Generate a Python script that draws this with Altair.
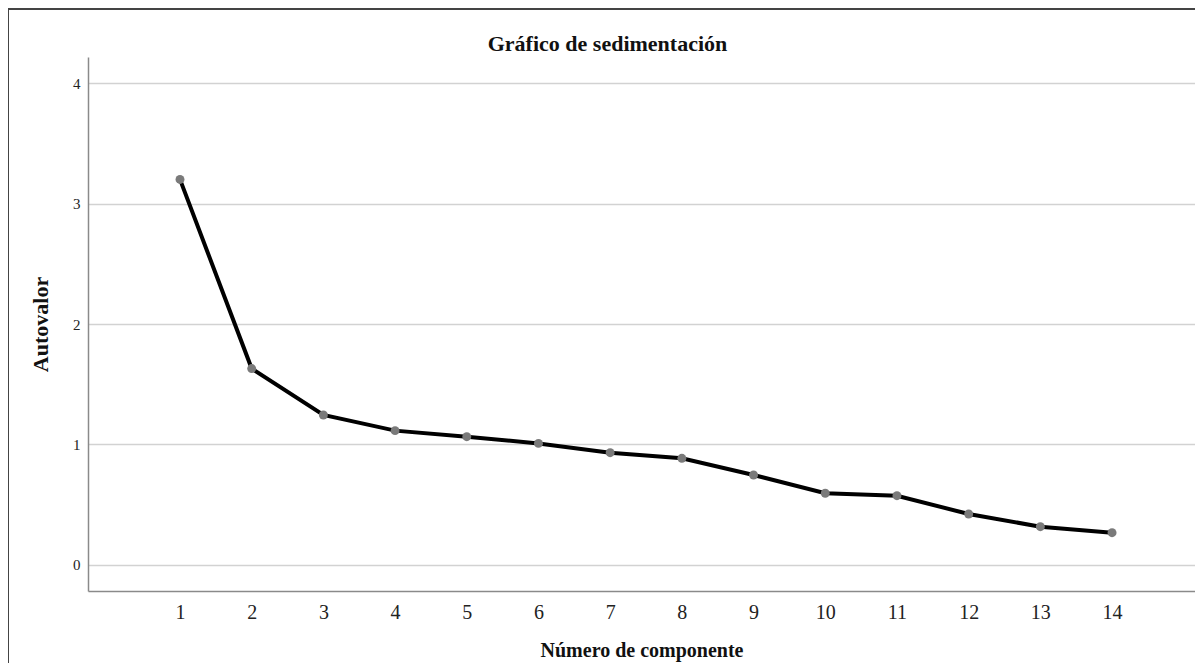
import altair as alt
import pandas as pd

componentes = list(range(1, 15))
autovalores = [3.20, 1.63, 1.245, 1.115, 1.065, 1.009, 0.932, 0.885,
               0.747, 0.595, 0.575, 0.423, 0.318, 0.268]
x_ticks = list(range(1, 15))
y_ticks = [0, 1, 2, 3, 4]

df = pd.DataFrame({"comp": componentes, "val": autovalores})

SERIF = "Liberation Serif"

x_enc = alt.X("comp:Q",
              scale=alt.Scale(domain=[-0.283, 15.157], nice=False, zero=False),
              axis=alt.Axis(values=x_ticks, format="d", title="Número de componente", grid=False,
                            ticks=False, labelFont=SERIF, labelFontSize=20,
                            labelColor="#222", labelPadding=11,
                            titleFont=SERIF, titleFontSize=20, titleFontWeight="bold",
                            titleColor="#111", titlePadding=18,
                            domainColor="#8a8a8a", domainWidth=1.5))
y_enc = alt.Y("val:Q",
              scale=alt.Scale(domain=[-0.216, 4.216], nice=False, zero=False),
              axis=alt.Axis(values=y_ticks, format="d", title="Autovalor", grid=True,
                            gridColor="#d2d2d2", gridWidth=1.5,
                            ticks=False, labelFont=SERIF, labelFontSize=15,
                            labelColor="#222", labelPadding=8,
                            titleFont=SERIF, titleFontSize=22, titleFontWeight="bold",
                            titleColor="#111", titlePadding=20,
                            domainColor="#8a8a8a", domainWidth=1.5))

line = alt.Chart(df).mark_line(color="black", strokeWidth=4).encode(x=x_enc, y=y_enc)
pts = alt.Chart(df).mark_circle(color="#7a7a7a", opacity=1, size=80).encode(x="comp:Q", y="val:Q")

border_left = alt.Chart(df).mark_rule(color="#444", strokeWidth=1.5, clip=False).encode(
    x=alt.value(-80), y=alt.value(-48), y2=alt.value(620))
border_top = alt.Chart(df).mark_rule(color="#444", strokeWidth=1.5, clip=False).encode(
    x=alt.value(-80), x2=alt.value(1110), y=alt.value(-48))

chart = alt.layer(line, pts, border_left, border_top).properties(
    width=1107, height=534,
    title=alt.TitleParams("Gráfico de sedimentación", font=SERIF, fontSize=22,
                          fontWeight="bold", color="#111", anchor="middle",
                          dx=-34, offset=-48),
    padding={"left": 80, "top": 49, "right": 0, "bottom": 72},
    autosize=alt.AutoSizeParams(type="none"),
).configure_view(stroke=None)

chart.save("out.html", embed_options={"renderer": "svg", "actions": False})
